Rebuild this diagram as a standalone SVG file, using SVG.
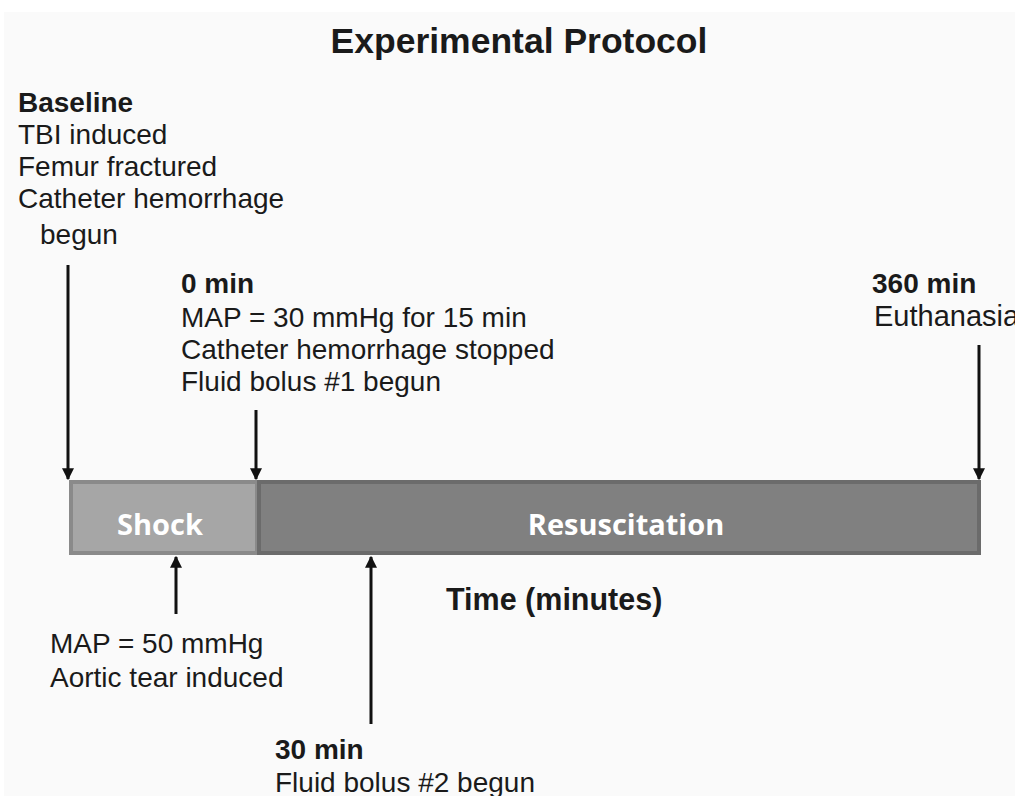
<svg xmlns="http://www.w3.org/2000/svg" width="1015" height="796" viewBox="0 0 1015 796">
<defs>
<style>
.t{font-family:"Liberation Sans",Arial,sans-serif;font-size:28px;fill:#1a1a1a}
.b{font-weight:bold}
.bar{font-family:"Open Sans","Liberation Sans",sans-serif;font-weight:bold;font-size:29px;fill:#fff;text-anchor:middle}
.ar{stroke:#111;stroke-width:3;fill:none}
</style>
<marker id="ah" viewBox="0 0 10 10" refX="9" refY="5" markerWidth="4" markerHeight="4" orient="auto" markerUnits="strokeWidth">
<path d="M0,0 L10,5 L0,10 z" fill="#111"/>
</marker>
</defs>
<rect width="1015" height="796" fill="#fff"/>
<rect x="4" y="12" width="1011" height="784" fill="#fafafa"/>
<text x="519" y="53" class="t b" style="font-size:35.5px" text-anchor="middle">Experimental Protocol</text>

<g id="baseline">
<text class="t"><tspan class="b" x="18" y="112">Baseline</tspan><tspan x="18" y="144">TBI induced</tspan><tspan x="18" y="176">Femur fractured</tspan><tspan x="18" y="208">Catheter hemorrhage</tspan><tspan x="40" y="244">begun</tspan></text>
</g>
<g id="zero">
<text class="t"><tspan class="b" x="181" y="293">0 min</tspan><tspan x="181" y="327">MAP = 30 mmHg for 15 min</tspan><tspan x="181" y="359">Catheter hemorrhage stopped</tspan><tspan x="181" y="391">Fluid bolus #1 begun</tspan></text>
</g>
<g id="end">
<text class="t"><tspan class="b" x="872" y="293">360 min</tspan><tspan x="874" y="326" style="font-size:29px">Euthanasia</tspan></text>
</g>
<g id="shock">
<rect x="71" y="482" width="186" height="71" fill="#a6a6a6" stroke="#8a8a8a" stroke-width="4"/>
<text class="bar" x="160" y="535">Shock</text>
</g>
<g id="resus">
<rect x="259" y="482" width="720" height="71" fill="#808080" stroke="#6b6b6b" stroke-width="4"/>
<text class="bar" x="626" y="535">Resuscitation</text>
</g>
<g id="time">
<text class="t b" x="446" y="610" style="font-size:30.5px">Time (minutes)</text>
</g>
<g id="aortic">
<text class="t"><tspan x="50" y="653">MAP = 50 mmHg</tspan><tspan x="50" y="687">Aortic tear induced</tspan></text>
</g>
<g id="thirty">
<text class="t"><tspan class="b" x="275" y="759">30 min</tspan><tspan x="275" y="792">Fluid bolus #2 begun</tspan></text>
</g>
<g id="connectors">
<line class="ar" x1="68" y1="265" x2="68" y2="479" marker-end="url(#ah)"/>
<line class="ar" x1="256" y1="410" x2="256" y2="479" marker-end="url(#ah)"/>
<line class="ar" x1="979" y1="345" x2="979" y2="479" marker-end="url(#ah)"/>
<line class="ar" x1="176" y1="614" x2="176" y2="557" marker-end="url(#ah)"/>
<line class="ar" x1="371" y1="724" x2="371" y2="557" marker-end="url(#ah)"/>
</g>
</svg>
